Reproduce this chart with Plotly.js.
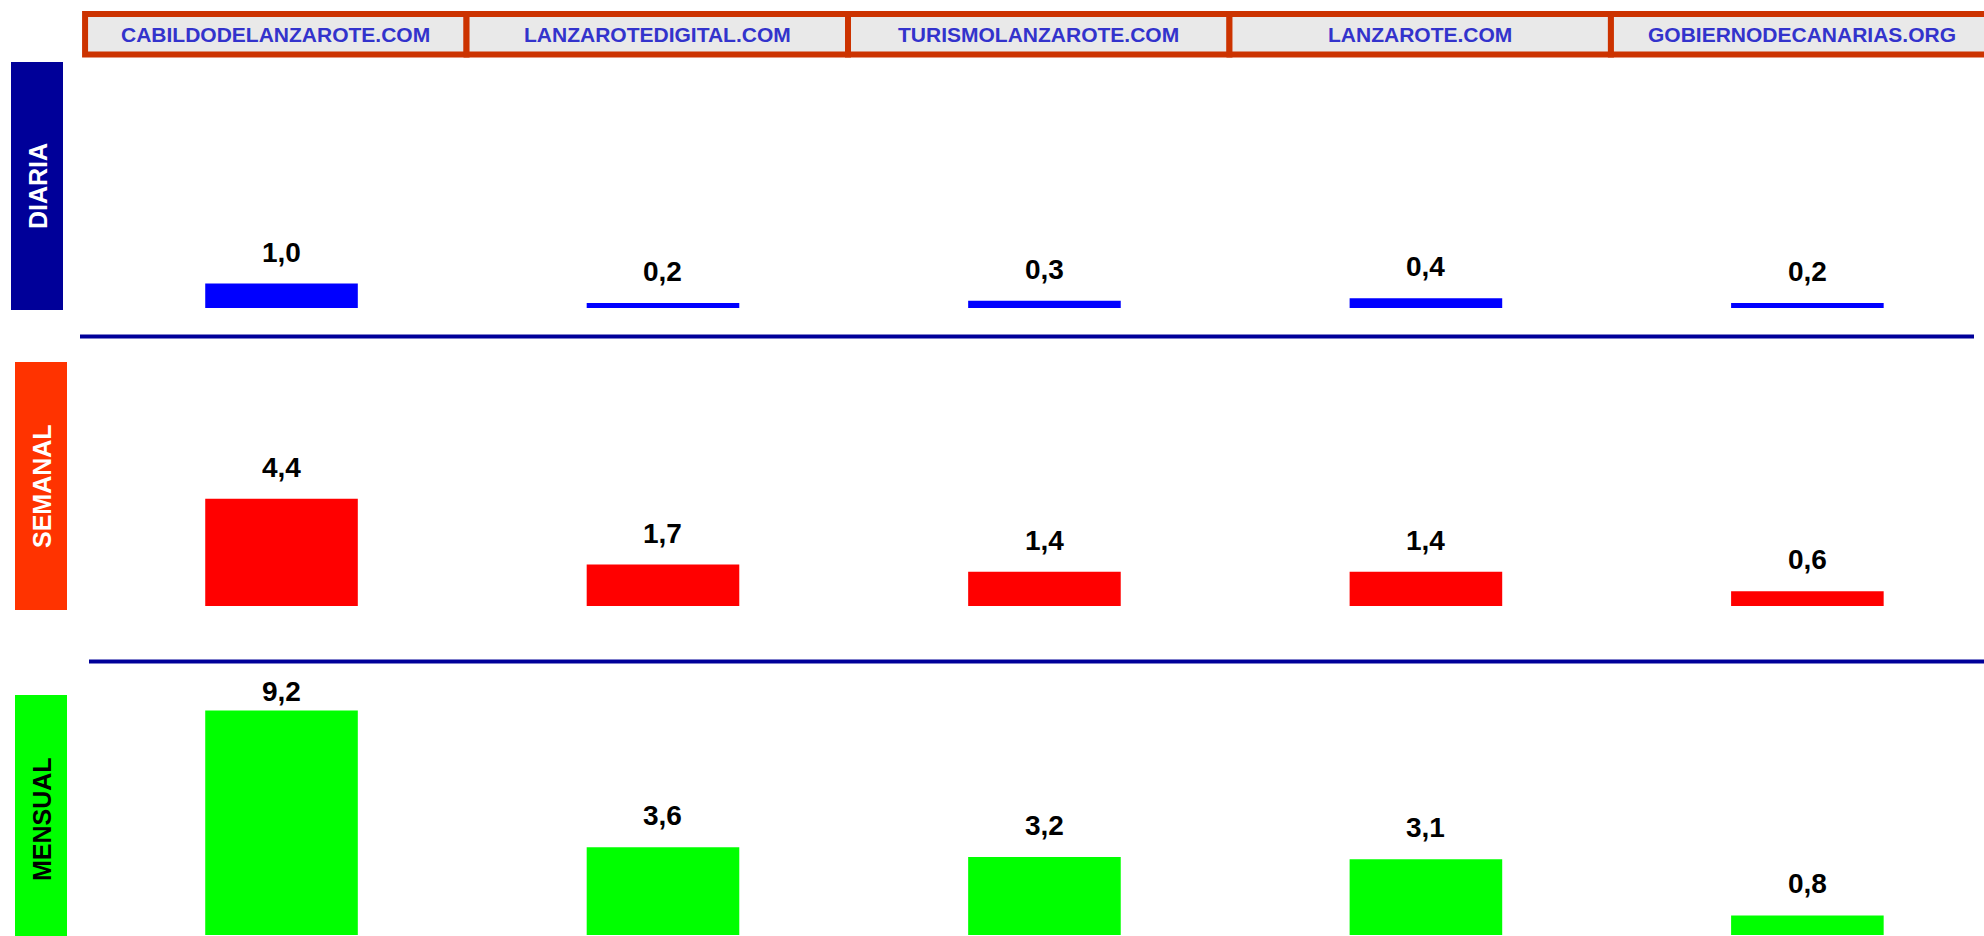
<!DOCTYPE html>
<html>
<head>
<meta charset="utf-8">
<script src="https://cdn.plot.ly/plotly-3.0.1.min.js"></script>
<style>
  html, body { margin: 0; padding: 0; background: #ffffff; }
  #chart { width: 1984px; height: 936px; }
</style>
</head>
<body>
<div id="chart"></div>
<script>
// ---- Data ----
const sites = ['CABILDODELANZAROTE.COM', 'LANZAROTEDIGITAL.COM', 'TURISMOLANZAROTE.COM', 'LANZAROTE.COM', 'GOBIERNODECANARIAS.ORG'];
const rowLabels = ['DIARIA', 'SEMANAL', 'MENSUAL'];
const diaria  = [1.0, 0.2, 0.3, 0.4, 0.2];
const semanal = [4.4, 1.7, 1.4, 1.4, 0.6];
const mensual = [9.2, 3.6, 3.2, 3.1, 0.8];

// ---- Styling / layout helpers ----
const W = 1984, H = 936;
const py = p => 1 - p / H;       // pixel row -> paper y
const px = p => p / W;           // pixel col -> paper x
const FONT = 'Liberation Sans, Arial, Helvetica, sans-serif';
const barColors = ['#0000FF', '#FF0000', '#00FF00'];
const boxColors = ['#000099', '#FF3300', '#00FF00'];
const boxText   = ['#FFFFFF', '#FFFFFF', '#000000'];
const series = [diaria, semanal, mensual];
const axes = ['y', 'y2', 'y3'];
const SCALE = 24.4; // px per unit

const fmt = v => v.toFixed(1).replace('.', ',');

const traces = series.map((vals, r) => ({
  type: 'bar',
  x: sites,
  y: vals,
  xaxis: 'x',
  yaxis: axes[r],
  width: 0.40,
  marker: { color: barColors[r], line: { width: 0 } },
  hoverinfo: 'skip',
  showlegend: false
}));

// label ceilings in data units per row (row 3 label is pushed down by the panel top)
const labelCeil = [99, 99, 9.55];

const annotations = [];
series.forEach((vals, r) => {
  vals.forEach((v, i) => {
    const shiftPx = Math.min(21, (labelCeil[r] - v) * SCALE);
    annotations.push({
      xref: 'x', yref: axes[r], x: i, y: v,
      text: '<b>' + fmt(v) + '</b>',
      showarrow: false, yanchor: 'bottom', xanchor: 'center',
      yshift: shiftPx - 7,
      font: { family: FONT, size: 28, color: '#000000' }
    });
  });
});

// header labels
sites.forEach((s, i) => {
  annotations.push({
    xref: 'x', yref: 'paper', x: i - 0.015, y: py(34.5),
    text: '<b>' + s + '</b>', showarrow: false,
    xanchor: 'center', yanchor: 'middle',
    font: { family: FONT, size: 21, color: '#3333CC' }
  });
});

// row label boxes + rotated text
const boxes = [
  { x0: 11, x1: 63, y0: 62,  y1: 310 },
  { x0: 15, x1: 67, y0: 362, y1: 610 },
  { x0: 15, x1: 67, y0: 695, y1: 943 }
];
const shapes = [];
boxes.forEach((b, r) => {
  shapes.push({
    type: 'rect', xref: 'paper', yref: 'paper',
    x0: px(b.x0), x1: px(b.x1), y0: py(b.y1), y1: py(b.y0),
    fillcolor: boxColors[r], line: { width: 0 }, layer: 'below'
  });
  annotations.push({
    xref: 'paper', yref: 'paper',
    x: px((b.x0 + b.x1) / 2 + 1), y: py((b.y0 + b.y1) / 2),
    text: '<b>' + rowLabels[r] + '</b>', textangle: -90, showarrow: false,
    xanchor: 'center', yanchor: 'middle',
    font: { family: FONT, size: 25, color: boxText[r] }
  });
});

// header cells aligned with the categories
sites.forEach((s, i) => {
  shapes.push({
    type: 'rect', xref: 'x', yref: 'paper',
    x0: i - 0.515, x1: i + 0.485, y0: py(54.5), y1: py(14),
    fillcolor: '#E9E9E9', line: { color: '#CC3300', width: 6 }, layer: 'below'
  });
});

// separator lines
shapes.push({ type: 'line', xref: 'paper', yref: 'paper', x0: px(80), x1: px(1974), y0: py(336.5), y1: py(336.5), line: { color: '#000099', width: 4 } });
shapes.push({ type: 'line', xref: 'paper', yref: 'paper', x0: px(89), x1: px(1990), y0: py(661.5), y1: py(661.5), line: { color: '#000099', width: 4 } });

const hiddenY = { visible: false, showgrid: false, zeroline: false, fixedrange: true };

const layout = {
  width: W, height: H,
  margin: { l: 0, r: 0, t: 0, b: 0, pad: 0 },
  paper_bgcolor: '#FFFFFF', plot_bgcolor: 'rgba(0,0,0,0)',
  showlegend: false,
  barmode: 'group',
  xaxis: { type: 'category', range: [-0.738, 4.463], visible: false, showgrid: false, zeroline: false, fixedrange: true },
  yaxis:  Object.assign({}, hiddenY, { domain: [py(308), py(62)],  range: [0, (308 - 62) / SCALE], anchor: 'x' }),
  yaxis2: Object.assign({}, hiddenY, { domain: [py(606), py(362)], range: [0, (606 - 362) / SCALE], anchor: 'x' }),
  yaxis3: Object.assign({}, hiddenY, { domain: [0, py(695)], range: [-1 / SCALE, (936 - 695) / SCALE - 1 / SCALE], anchor: 'x' }),
  shapes: shapes,
  annotations: annotations
};

Plotly.newPlot('chart', traces, layout, { displayModeBar: false, staticPlot: true });
</script>
</body>
</html>
